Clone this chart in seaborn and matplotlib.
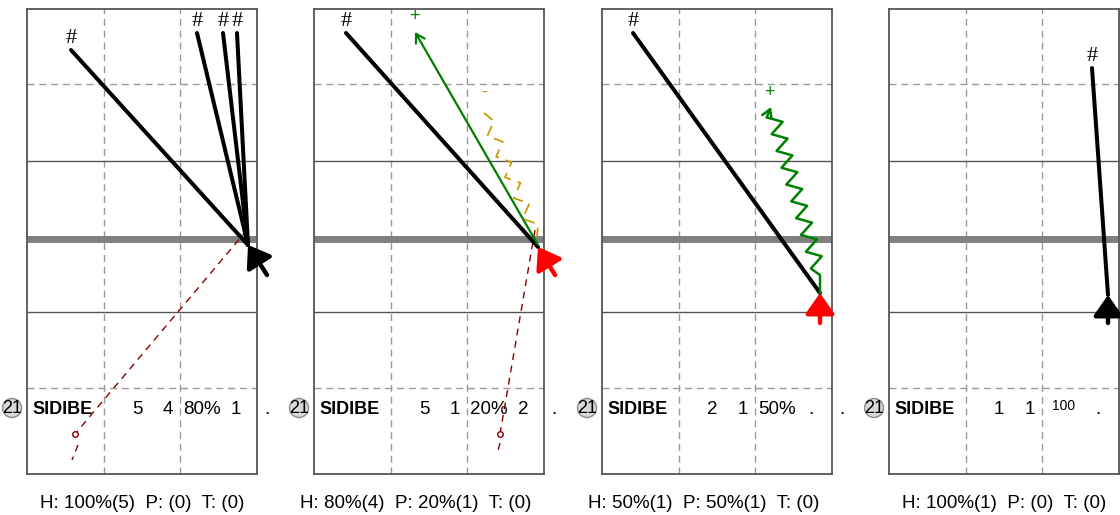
import numpy as np
import pandas as pd
import matplotlib
matplotlib.use("Agg")
import matplotlib.pyplot as plt
import seaborn as sns
from matplotlib.patches import Circle

sns.set_style("white")
plt.rcParams['font.family'] = ['Liberation Sans', 'DejaVu Sans']
plt.rcParams['text.color'] = 'black'

# panel geometry in pixels (figure 1120x515), panel court units = pixels
panel_left = [27, 314, 602, 889]
panel_top, panel_bottom = 9, 474
W, H = 230, 465

# player row
player_no = "21"
player_name = "SIDIBE"
row_cols = [110, 141, 175, 209, 240]
row_values = [["5", "4", "80%", "1", "."],
              ["5", "1", "20%", "2", "."],
              ["2", "1", "50%", ".", "."],
              ["1", "1", "100", "."]]
summary = ["H: 100%(5)  P: (0)  T: (0)",
           "H: 80%(4)  P: 20%(1)  T: (0)",
           "H: 50%(1)  P: 50%(1)  T: (0)",
           "H: 100%(1)  P: (0)  T: (0)"]

# shots (black lines) : start points and common end point per panel
shot_x0 = [[44, 170, 196, 210], [32], [31], [203]]
shot_y0 = [[41, 24, 24, 24], [24], [24], [59]]
goal_x = [221, 224, 218, 219]
goal_y = [236, 238, 284, 286]

# incoming arrow per panel
tail_x = [240, 241, 218, 219]
tail_y = [266, 266, 314, 314]
arrow_col = ["black", "red", "red", "black"]

# passes (dark red dashed) : panel, start, circle, tail segment
pass_panel = [0, 1]
pass_x = [[220, 48], [221, 186]]
pass_y = [[221, 425], [221, 425]]
pass_tail_x = [[51, 45], [186, 183]]
pass_tail_y = [[436, 451], [434, 446]]

# other movements
green_line = dict(panel=1, x=[224, 101], y=[236, 23], lx=100, ly=8)
green_wave = dict(panel=2, x=[218, 218, 169], y=[284, 266, 98], lx=167, ly=84)
gold_wave = dict(panel=1, x=[170, 223], y=[104, 228], lx=170, ly=83)

GRID_V = [76.7, 153.3]
GRID_DASH_H = [75.3, 378.7]
GRID_SOLID_H = [152, 303.3]
GRID_THICK = 230.3


def zigzag(x0, y0, x1, y1, n, amp):
    dx, dy = x1 - x0, y1 - y0
    L = np.hypot(dx, dy)
    nx, ny = -dy / L, dx / L
    t = np.linspace(0, 1, 2 * n + 1)
    s = np.array([0] + [(-1) ** k for k in range(1, 2 * n)] + [0]) * amp
    return x0 + t * dx + s * nx, y0 + t * dy + s * ny


fig = plt.figure(figsize=(11.2, 5.15), dpi=100)
axes = []
for i, left in enumerate(panel_left):
    ax = fig.add_axes([left / 1120, (515 - panel_bottom) / 515, W / 1120, H / 515])
    ax.set_xlim(0, W)
    ax.set_ylim(H, 0)
    ax.set_xticks([])
    ax.set_yticks([])
    for sp in ax.spines.values():
        sp.set_color("#555555")
        sp.set_linewidth(1.3)
    for gx in GRID_V:
        ax.axvline(gx, color="#999999", lw=1, ls=(0, (5, 3.5)), zorder=1)
    for gy in GRID_DASH_H:
        ax.axhline(gy, color="#999999", lw=1, ls=(0, (5, 3.5)), zorder=1)
    for gy in GRID_SOLID_H:
        ax.axhline(gy, color="#555555", lw=1, zorder=1)
    ax.axhline(GRID_THICK, color="#808080", lw=5, zorder=1)

    # shots
    df = pd.DataFrame({
        "x": sum([[x0, goal_x[i]] for x0 in shot_x0[i]], []),
        "y": sum([[y0, goal_y[i]] for y0 in shot_y0[i]], []),
        "shot": sum([[k, k] for k in range(len(shot_x0[i]))], []),
    })
    sns.lineplot(data=df, x="x", y="y", units="shot", estimator=None, sort=False,
                 color="black", lw=2.9, ax=ax, legend=False, zorder=4)
    for x0, y0 in zip(shot_x0[i], shot_y0[i]):
        ax.text(x0, y0 - 7, "#", family="Liberation Serif", fontsize=16,
                ha="center", va="baseline", color="black")

    ax.annotate("", xy=(goal_x[i], goal_y[i]), xytext=(tail_x[i], tail_y[i]),
                arrowprops=dict(arrowstyle="-|>,head_length=1.0,head_width=0.7",
                                mutation_scale=12.5, lw=3.2, color=arrow_col[i],
                                shrinkA=0, shrinkB=0),
                annotation_clip=False, zorder=6)

    # player row
    ax.add_patch(Circle((-15, 399), 9.5, facecolor="#d9d9d9", edgecolor="#8a8a8a",
                        lw=1, clip_on=False, zorder=5))
    ax.text(-15, 399.5, player_no, fontsize=13, ha="center", va="center", zorder=6)
    ax.text(5, 405, player_name, fontsize=13, fontweight="bold", ha="left", va="baseline")
    for cx, val in zip(row_cols, row_values[i]):
        if val == "100":
            ax.text(cx, 401, val, fontsize=10, ha="center", va="baseline")
        else:
            ax.text(cx, 405, val, fontsize=13.5, ha="center", va="baseline")
    ax.text(W - 13, 494, summary[i], fontsize=13.5, ha="right", va="center")
    axes.append(ax)

# passes
for p, xs, ys, tx, ty in zip(pass_panel, pass_x, pass_y, pass_tail_x, pass_tail_y):
    ax = axes[p]
    ax.plot(xs, ys, color="#8b0000", lw=1, ls=(0, (5, 4)), zorder=3)
    ax.plot(tx, ty, color="#8b0000", lw=1, ls=(0, (5, 4)), zorder=3)
    ax.plot(xs[1], ys[1], marker="o", ms=4, mfc="white", mec="#8b0000", mew=1, zorder=4)

# green straight run
ax = axes[green_line["panel"]]
ax.annotate("", xy=(green_line["x"][1], green_line["y"][1]),
            xytext=(green_line["x"][0], green_line["y"][0]),
            arrowprops=dict(arrowstyle="->,head_length=0.5,head_width=0.3",
                            mutation_scale=12, lw=1.6, color="green",
                            shrinkA=0, shrinkB=0), zorder=5)
ax.text(green_line["lx"], green_line["ly"], "+", color="green", fontsize=13,
        ha="center", va="center")

# green dribble
ax = axes[green_wave["panel"]]
gx, gy = green_wave["x"], green_wave["y"]
zx, zy = zigzag(gx[1], gy[1], gx[2], gy[2], 10, 7)
ax.plot([gx[0]] + list(zx[:-1]), [gy[0]] + list(zy[:-1]), color="green", lw=1.8, zorder=5)
ax.annotate("", xy=(zx[-1], zy[-1]), xytext=(zx[-2], zy[-2]),
            arrowprops=dict(arrowstyle="->,head_length=0.5,head_width=0.3",
                            mutation_scale=12, lw=1.8, color="green",
                            shrinkA=0, shrinkB=0), zorder=5)
ax.text(green_wave["lx"], green_wave["ly"], "+", color="green", fontsize=13,
        ha="center", va="center")

# gold dashed wave
ax = axes[gold_wave["panel"]]
zx, zy = zigzag(gold_wave["x"][0], gold_wave["y"][0], gold_wave["x"][1], gold_wave["y"][1], 6, 6)
ax.plot(zx, zy, color="#cc9900", lw=1.3, ls=(0, (6, 4)), zorder=3)
ax.text(gold_wave["lx"], gold_wave["ly"], "-", color="#cc9900", fontsize=13,
        ha="center", va="center")

fig.savefig("out.png", dpi=100)
